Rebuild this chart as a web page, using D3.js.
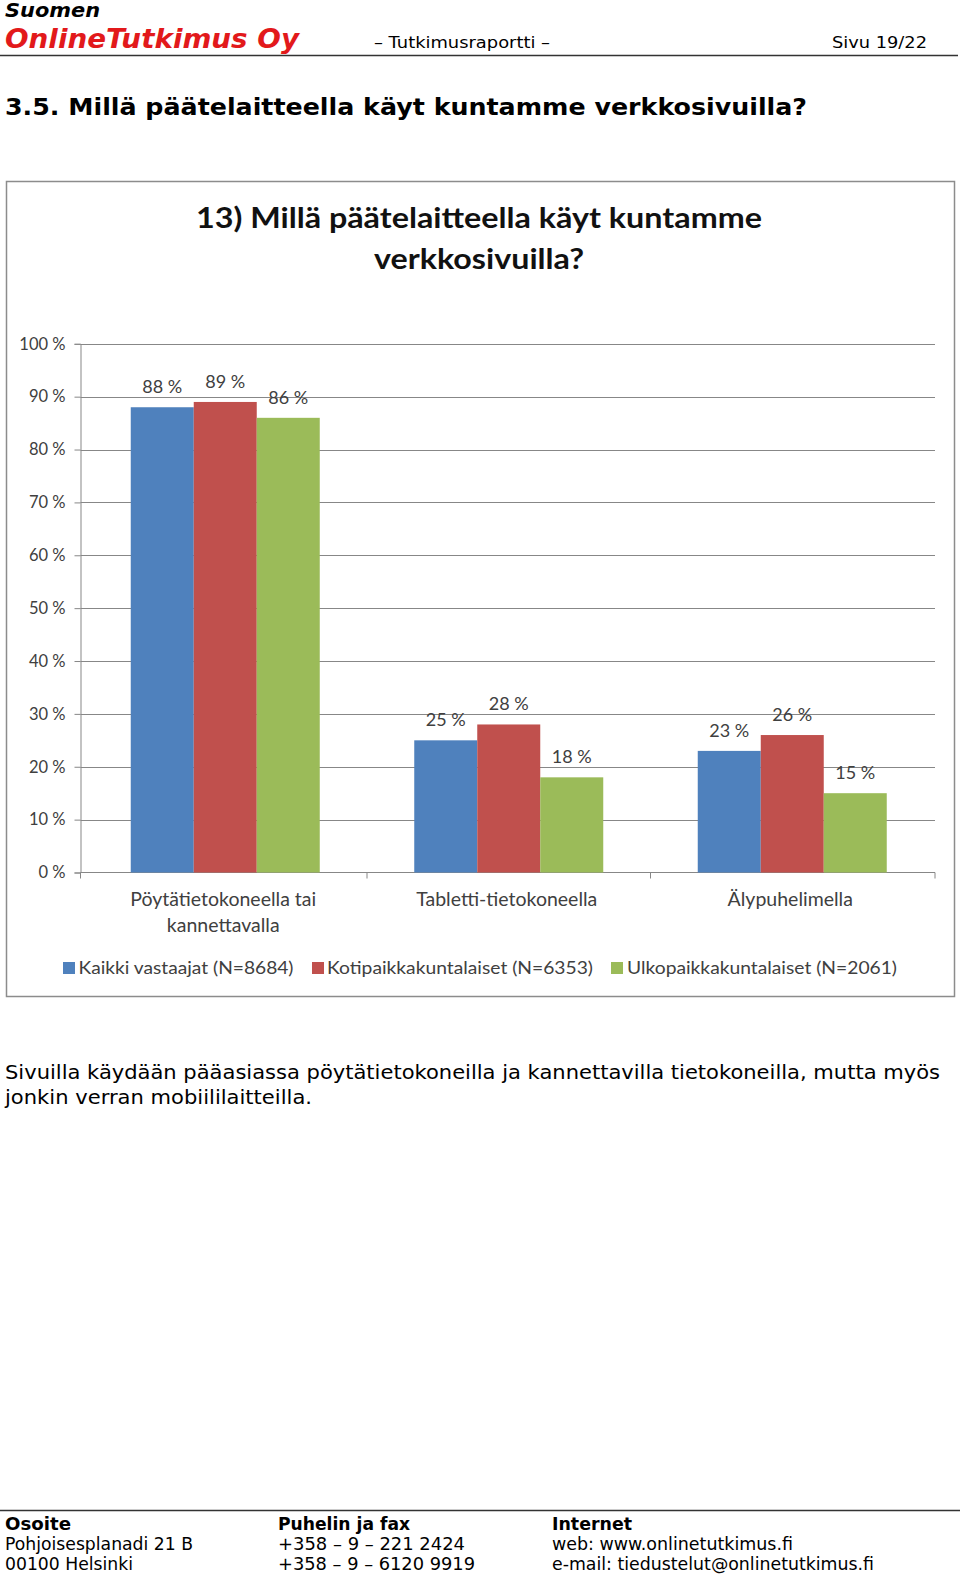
<!DOCTYPE html>
<html><head><meta charset="utf-8">
<script src="https://cdn.jsdelivr.net/npm/d3@7"></script>
<style>body{margin:0;background:#fff}svg{display:block}</style>
</head><body>
<svg id="page" width="960" height="1576"></svg>
<script>
// ---- data ----
const categories = ["Pöytätietokoneella tai kannettavalla", "Tabletti-tietokoneella", "Älypuhelimella"];
const categoryLines = [["Pöytätietokoneella tai", "kannettavalla"], ["Tabletti-tietokoneella"], ["Älypuhelimella"]];
const seriesNames = ["Kaikki vastaajat (N=8684)", "Kotipaikkakuntalaiset (N=6353)", "Ulkopaikkakuntalaiset (N=2061)"];
const kaikkiVastaajat = [88, 25, 23];
const kotipaikkakuntalaiset = [89, 28, 26];
const ulkopaikkakuntalaiset = [86, 18, 15];
const yTickValues = [0, 10, 20, 30, 40, 50, 60, 70, 80, 90, 100];
const seriesColors = ["#4F81BD", "#C0504D", "#9BBB59"];

const seriesValues = [kaikkiVastaajat, kotipaikkakuntalaiset, ulkopaikkakuntalaiset];
const table = categories.map((c, i) => ({cat: c, vals: seriesValues.map((s, j) => ({key: seriesNames[j], v: s[i], j}))}));

const svg = d3.select("#page");
const verd = "'DejaVu Sans', Verdana, sans-serif";
const cal = "Lato, 'Open Sans', sans-serif";

// ---- page header ----
svg.append("text").attr("x", 5).attr("y", 17).attr("font-family", verd).attr("font-weight", "bold")
  .attr("font-style", "italic").attr("font-size", 19).attr("fill", "#000")
  .attr("textLength", 95).attr("lengthAdjust", "spacingAndGlyphs").text("Suomen");
svg.append("text").attr("x", 5).attr("y", 48).attr("font-family", verd).attr("font-weight", "bold")
  .attr("font-style", "italic").attr("font-size", 27).attr("fill", "#e2191b")
  .attr("textLength", 294).attr("lengthAdjust", "spacingAndGlyphs").text("OnlineTutkimus Oy");
svg.append("text").attr("x", 374).attr("y", 48).attr("font-family", verd)
  .attr("font-size", 16).attr("fill", "#000")
  .attr("textLength", 176).attr("lengthAdjust", "spacingAndGlyphs").text("– Tutkimusraportti –");
svg.append("text").attr("x", 832).attr("y", 48).attr("font-family", verd)
  .attr("font-size", 16).attr("fill", "#000")
  .attr("textLength", 95).attr("lengthAdjust", "spacingAndGlyphs").text("Sivu 19/22");
svg.append("line").attr("x1", 0).attr("x2", 958).attr("y1", 55.5).attr("y2", 55.5)
  .attr("stroke", "#333").attr("stroke-width", 1.5);

// ---- section heading ----
svg.append("text").attr("x", 5).attr("y", 115).attr("font-family", verd).attr("font-weight", "bold")
  .attr("font-size", 23).attr("fill", "#000")
  .attr("textLength", 802).attr("lengthAdjust", "spacingAndGlyphs")
  .text("3.5. Millä päätelaitteella käyt kuntamme verkkosivuilla?");

// ---- chart frame ----
svg.append("rect").attr("x", 6.5).attr("y", 181.5).attr("width", 948).attr("height", 815)
  .attr("fill", "#fff").attr("stroke", "#8c8c8c").attr("stroke-width", 1.5);

// chart title
const titleLines = ["13) Millä päätelaitteella käyt kuntamme", "verkkosivuilla?"];
const titleWidths = [566, 210];
svg.append("g").selectAll("text").data(titleLines).join("text")
  .attr("x", 479).attr("y", (d, i) => 228 + i * 41).attr("text-anchor", "middle")
  .attr("font-family", cal).attr("font-weight", "bold").attr("font-size", 29).attr("fill", "#111")
  .attr("textLength", (d, i) => titleWidths[i]).attr("lengthAdjust", "spacingAndGlyphs")
  .text(d => d);

// ---- plot ----
const plotLeft = 80.5, plotRight = 935, plotTop = 343.8, plotBottom = 872.5;
const y = d3.scaleLinear().domain([0, 100]).range([plotBottom, plotTop]);
const x0 = d3.scaleBand().domain(categories).range([83.5, 934]).paddingInner(0).paddingOuter(0);
const x1 = d3.scaleBand().domain(seriesNames).range([0, x0.bandwidth()]).paddingInner(0).paddingOuter(0.75);

// gridlines
svg.append("g").selectAll("line").data(yTickValues.filter(v => v > 0)).join("line")
  .attr("x1", plotLeft).attr("x2", plotRight).attr("y1", d => Math.round(y(d)) + 0.5).attr("y2", d => Math.round(y(d)) + 0.5)
  .attr("stroke", "#878787").attr("stroke-width", 1);

// y axis
const yAxis = svg.append("g").attr("transform", `translate(${plotLeft},0)`)
  .call(d3.axisLeft(y).tickValues(yTickValues).tickSize(6).tickPadding(9).tickFormat(d => d + " %"));
yAxis.select(".domain").attr("stroke", "#878787");
yAxis.selectAll(".tick line").attr("stroke", "#878787");
yAxis.selectAll(".tick text").attr("font-family", cal).attr("font-size", 16.5).attr("fill", "#404040");

// x axis
const xAxis = svg.append("g").attr("transform", `translate(0,${plotBottom})`)
  .call(d3.axisBottom(x0).tickSize(0).tickFormat(""));
xAxis.select(".domain").attr("stroke", "#878787").attr("d", `M${plotLeft},0H${plotRight}`);
const boundaries = [plotLeft, ...categories.slice(1).map(c => x0(c)), plotRight];
svg.append("g").selectAll("line").data(boundaries).join("line")
  .attr("x1", d => d).attr("x2", d => d).attr("y1", plotBottom).attr("y2", plotBottom + 6)
  .attr("stroke", "#878787");

// category labels
const catG = svg.append("g").selectAll("text").data(categories).join("text")
  .attr("x", d => x0(d) + x0.bandwidth() / 2 - 2).attr("y", 906)
  .attr("text-anchor", "middle").attr("font-family", cal).attr("font-size", 19.5).attr("fill", "#404040");
catG.selectAll("tspan").data((d, i) => categoryLines[i]).join("tspan")
  .attr("x", function() { return this.parentNode.getAttribute("x"); })
  .attr("dy", (d, i) => i === 0 ? 0 : 26).text(d => d);

// bars
const groups = svg.append("g").selectAll("g").data(table).join("g")
  .attr("transform", d => `translate(${x0(d.cat)},0)`);
groups.selectAll("rect").data(d => d.vals).join("rect")
  .attr("x", d => x1(d.key)).attr("width", x1.bandwidth())
  .attr("y", d => y(d.v)).attr("height", d => plotBottom - y(d.v))
  .attr("fill", d => seriesColors[d.j]);
groups.selectAll("text").data(d => d.vals).join("text")
  .attr("x", d => x1(d.key) + x1.bandwidth() / 2).attr("y", d => y(d.v) - 14)
  .attr("text-anchor", "middle").attr("font-family", cal).attr("font-size", 18).attr("fill", "#404040")
  .text(d => d.v + " %");

// legend
const legendSwatchX = [63, 312, 611];
const legendTextX = [78.5, 327, 627];
const legendTextW = [215, 266, 270];
const leg = svg.append("g").selectAll("g").data(seriesNames).join("g");
leg.append("rect").attr("x", (d, i) => legendSwatchX[i]).attr("y", 962).attr("width", 12).attr("height", 12)
  .attr("fill", (d, i) => seriesColors[i]);
leg.append("text").attr("x", (d, i) => legendTextX[i]).attr("y", 974)
  .attr("font-family", cal).attr("font-size", 17.5).attr("fill", "#404040")
  .attr("textLength", (d, i) => legendTextW[i]).attr("lengthAdjust", "spacingAndGlyphs")
  .text(d => d);

// ---- body text ----
const bodyLines = ["Sivuilla käydään pääasiassa pöytätietokoneilla ja kannettavilla tietokoneilla, mutta myös",
  "jonkin verran mobiililaitteilla."];
const bodyW = [935, 307];
svg.append("g").selectAll("text").data(bodyLines).join("text")
  .attr("x", 5).attr("y", (d, i) => 1079 + i * 25).attr("font-family", verd).attr("font-size", 19).attr("fill", "#000")
  .attr("textLength", (d, i) => bodyW[i]).attr("lengthAdjust", "spacingAndGlyphs").text(d => d);

// ---- footer ----
svg.append("line").attr("x1", 0).attr("x2", 960).attr("y1", 1510.5).attr("y2", 1510.5)
  .attr("stroke", "#333").attr("stroke-width", 1.5);
const footerCols = [
  {x: 5, lines: ["Osoite", "Pohjoisesplanadi 21 B", "00100 Helsinki"], w: [66, 188, 128]},
  {x: 278, lines: ["Puhelin ja fax", "+358 – 9 – 221 2424", "+358 – 9 – 6120 9919"], w: [132, 187, 197]},
  {x: 552, lines: ["Internet", "web: www.onlinetutkimus.fi", "e-mail: tiedustelut@onlinetutkimus.fi"], w: [80, 241, 322]}
];
footerCols.forEach(col => {
  svg.append("g").selectAll("text").data(col.lines).join("text")
    .attr("x", col.x).attr("y", (d, i) => 1530 + i * 20)
    .attr("font-family", verd).attr("font-size", 17).attr("fill", "#000")
    .attr("font-weight", (d, i) => i === 0 ? "bold" : "normal")
    .attr("textLength", (d, i) => col.w[i]).attr("lengthAdjust", "spacingAndGlyphs")
    .text(d => d);
});
</script>
</body></html>
